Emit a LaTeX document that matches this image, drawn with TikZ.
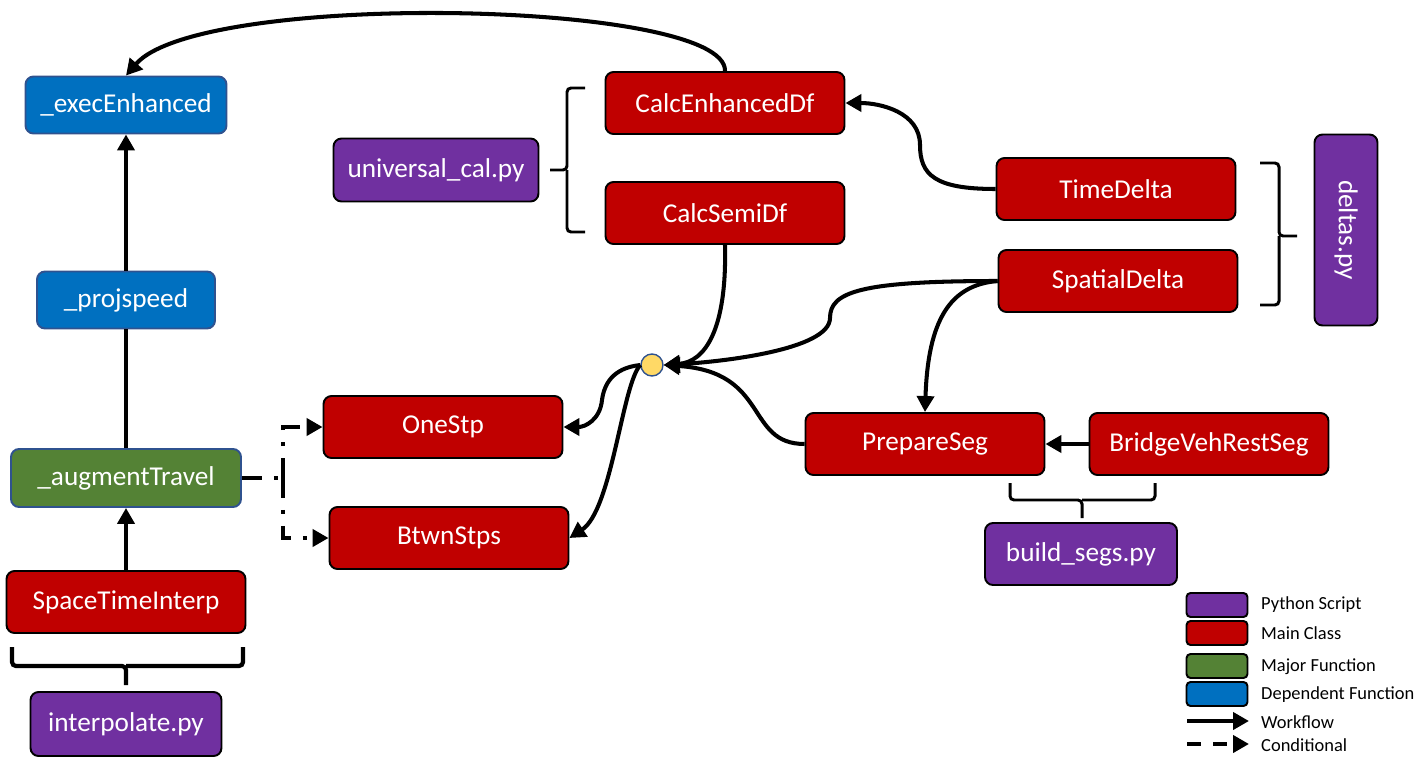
\documentclass[tikz,border=0pt]{standalone}
\usepackage{fontspec}
\setmainfont{Carlito}
\usetikzlibrary{arrows.meta,calc}

\definecolor{pyPurple}{HTML}{7030A0}
\definecolor{clsRed}{HTML}{C00000}
\definecolor{fnGreen}{HTML}{548235}
\definecolor{depBlue}{HTML}{0070C0}
\definecolor{edgeBlue}{HTML}{2F528F}
\definecolor{jnGold}{HTML}{FFD966}

\begin{document}
\begin{tikzpicture}[x=0.02cm, y=-0.02cm, >={Triangle[length=0.32cm,width=0.34cm]},
                    box/.style={rectangle, rounded corners=0.16cm, line width=1.1pt, text=white,
                                font=\fontsize{15.5}{18}\selectfont, minimum height=1.24cm, minimum width=4.78cm},
                    pynode/.style={box, draw=black, fill=pyPurple},
                    clsnode/.style={box, draw=black, fill=clsRed},
                    majnode/.style={box, draw=edgeBlue, fill=fnGreen},
                    depnode/.style={box, draw=edgeBlue, fill=depBlue},
                    flow/.style={->, line width=2.3pt},
                    cond/.style={->, line width=2.3pt, dash pattern=on 0.4cm off 0.24cm on 0.08cm off 0.24cm},
                    brace/.style={line width=1.7pt, rounded corners=0.08cm},
                    legbox/.style={rectangle, rounded corners=0.08cm, line width=1.1pt, draw=black,
                                   minimum width=1.22cm, minimum height=0.48cm},
                    legtext/.style={anchor=west, font=\fontsize{10.5}{12}\selectfont}]

  \useasboundingbox (0,0) rectangle (1414,761);

  % left column
  \node[depnode, minimum width=4.02cm, minimum height=1.14cm] (execEnh) at (126,105) {\_execEnhanced};
  \node[depnode, minimum width=3.56cm, minimum height=1.14cm] (projSpeed) at (126,300) {\_projspeed};
  \node[majnode, minimum width=4.6cm, minimum height=1.16cm] (augTravel) at (126,478) {\_augmentTravel};
  \node[clsnode] (stInterp) at (126,602) {SpaceTimeInterp};
  \node[pynode, minimum width=3.82cm, minimum height=1.28cm] (interpPy) at (126,724) {interpolate.py};

  % middle
  \node[pynode, minimum width=4.1cm, minimum height=1.26cm] (univPy) at (436,170) {universal\_cal.py};
  \node[clsnode] (calcEnh) at (725,103) {CalcEnhancedDf};
  \node[clsnode] (calcSemi) at (725,213) {CalcSemiDf};
  \node[clsnode] (oneStp) at (443,427) {OneStp};
  \node[clsnode] (btwnStps) at (449,538) {BtwnStps};
  \node[circle, draw=edgeBlue, fill=jnGold, line width=0.8pt, minimum size=0.44cm, inner sep=0pt] (jn) at (652,365) {};

  % right
  \node[clsnode] (timeDelta) at (1116,189) {TimeDelta};
  \node[clsnode] (spatDelta) at (1118,281) {SpatialDelta};
  \node[pynode, minimum width=1.26cm, minimum height=3.82cm] (deltasPy) at (1346,230) {};
  \node[rotate=-90, text=white, font=\fontsize{15.5}{18}\selectfont] (deltasTxt) at (deltasPy) {deltas.py};
  \node[clsnode] (prepSeg) at (925,444) {PrepareSeg};
  \node[clsnode] (bridgeSeg) at (1209,444) {BridgeVehRestSeg};
  \node[pynode, minimum width=3.84cm] (buildPy) at (1081,554) {build\_segs.py};

  % braces
  \draw[brace, line width=2.4pt] (12,647) -- (12,666) -- (126,666) -- (126,685);
  \draw[brace, line width=2.4pt] (243,647) -- (243,666) -- (126,666);
  \draw[brace] (585,88) -- (567,88) -- (567,170) -- (550,170);
  \draw[brace] (585,232) -- (567,232) -- (567,170);
  \draw[brace] (1260,163) -- (1279,163) -- (1279,236) -- (1297,236);
  \draw[brace] (1260,305) -- (1279,305) -- (1279,236);
  \draw[brace] (1010,483) -- (1010,500) -- (1082,500) -- (1082,518);
  \draw[brace] (1155,483) -- (1155,500) -- (1082,500);

  % workflow
  \draw[flow] (calcEnh.north) .. controls (727,0) and (200,-10) .. (execEnh.north);
  \draw[flow] (projSpeed) -- (execEnh);
  \draw[line width=2.3pt] (augTravel) -- (projSpeed);
  \draw[flow] (stInterp) -- (augTravel);
  \draw[flow] (timeDelta.west) .. controls (935,189) and (920,175) .. (920,145)
                               .. controls (920,112) and (880,103) .. (calcEnh.east);
  \draw[flow] (calcSemi.south) .. controls (727,330) and (705,362) .. (jn.east);
  \draw[flow] (spatDelta.west) .. controls (860,281) and (830,292) .. (830,318)
                               .. controls (830,350) and (720,362) .. (jn.east);
  \draw[flow] (spatDelta.west) .. controls (950,285) and (928,320) .. (prepSeg.north);
  \draw[flow] (prepSeg.west) .. controls (745,444) and (770,372) .. (jn.east);
  \draw[flow] (bridgeSeg) -- (prepSeg);
  \draw[flow] (jn.west) .. controls (612,368) and (604,385) .. (602,400)
                        .. controls (600,420) and (585,427) .. (oneStp.east);
  \draw[flow] (jn.west) .. controls (622,385) and (612,510) .. (btwnStps.east);

  % conditional
  \coordinate (split) at (283,478);
  \draw[line width=2.3pt, dash pattern=on 0.4cm off 0.24cm on 0.08cm off 0.24cm] (augTravel.east) -- (split);
  \draw[cond] (split) |- (oneStp.west);
  \draw[cond] (split) |- (btwnStps.west);

  % legend
  \node[legbox, fill=pyPurple] (legPy) at (1217,605) {};
  \node[legbox, fill=clsRed] (legCls) at (1217,633) {};
  \node[legbox, fill=fnGreen] (legMaj) at (1217,666) {};
  \node[legbox, fill=depBlue] (legDep) at (1217,694) {};
  \node[legtext] at (1255,605) {Python Script};
  \node[legtext] at (1255,633) {Main Class};
  \node[legtext] at (1255,667) {Major Function};
  \node[legtext] at (1255,695) {Dependent Function};
  \coordinate (wfA) at (1187,721);
  \coordinate (wfB) at (1249,721);
  \coordinate (cdA) at (1187,744);
  \coordinate (cdB) at (1249,744);
  \draw[flow] (wfA) -- (wfB);
  \draw[->, line width=2.3pt, dash pattern=on 0.28cm off 0.24cm] (cdA) -- (cdB);
  \node[legtext] at (1255,722) {Workflow};
  \node[legtext] at (1255,745) {Conditional};
\end{tikzpicture}
\end{document}
